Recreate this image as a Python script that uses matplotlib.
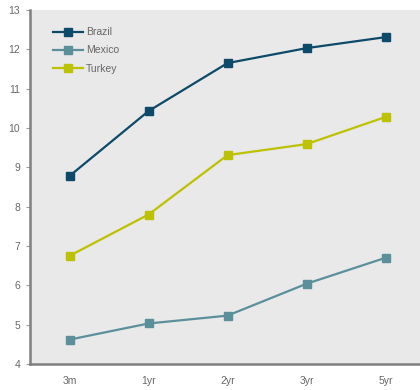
import matplotlib
matplotlib.use("Agg")
import matplotlib.pyplot as plt

categories = ["3m", "1yr", "2yr", "3yr", "5yr"]
brazil = [8.78, 10.43, 11.65, 12.03, 12.31]
mexico = [4.62, 5.03, 5.23, 6.04, 6.70]
turkey = [6.75, 7.80, 9.31, 9.59, 10.28]
yticks = [4, 5, 6, 7, 8, 9, 10, 11, 12, 13]

plt.rcParams['font.family'] = ['Liberation Sans', 'DejaVu Sans']

fig = plt.figure(figsize=(4.2, 3.9), dpi=100)
ax = fig.add_axes([30/420, 26/390, 395/420, 354/390])
ax.set_facecolor("#e9e9e9")

series = [("Brazil", brazil, "#0d4a69"), ("Mexico", mexico, "#5b909b"), ("Turkey", turkey, "#bcc100")]
x = list(range(len(categories)))
for name, vals, col in series:
    ax.plot(x, vals, color=col, lw=1.6, marker="s", ms=6, label=name)

ax.set_xlim(-0.5, 4.5)
ax.set_ylim(4, 13)
ax.set_xticks(x)
ax.set_xticklabels(categories)
ax.set_yticks(yticks)

for s in ["top", "right"]:
    ax.spines[s].set_visible(False)
for s in ["left", "bottom"]:
    ax.spines[s].set_color("#7f7f7f")
    ax.spines[s].set_linewidth(1.8)

ax.tick_params(axis="x", length=0, pad=9, labelsize=7.5, labelcolor="#666666")
ax.tick_params(axis="y", length=3, width=0.8, color="#999999", pad=4, labelsize=7.5, labelcolor="#666666")

leg = ax.legend(loc="upper left", bbox_to_anchor=(0.035, 0.978), frameon=False,
                fontsize=7.5, labelcolor="#666666", handlelength=2.9, handletextpad=0.25,
                labelspacing=0.8, markerscale=0.85)

fig.savefig("out.png", dpi=100)
